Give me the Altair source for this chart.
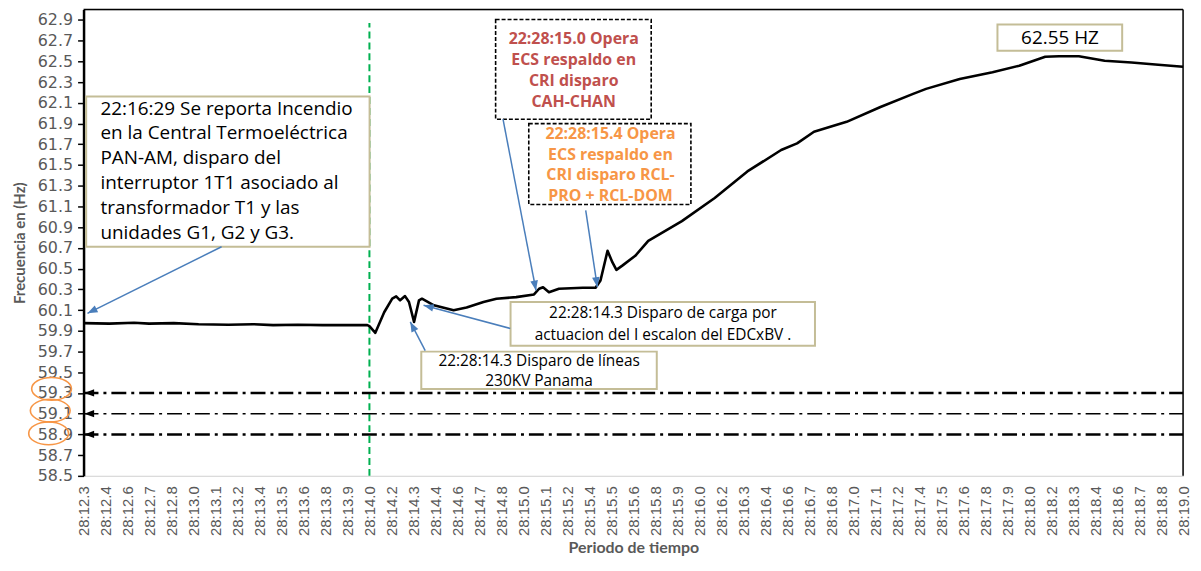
import math
import altair as alt
import pandas as pd

# ---------------- data ----------------
time_s = [12.300, 12.457, 12.608, 12.699, 12.850, 13.001, 13.183, 13.334, 13.455, 13.606,
          13.757, 13.908, 14.029, 14.042, 14.078, 14.132, 14.181, 14.205, 14.229, 14.259,
          14.283, 14.314, 14.344, 14.362, 14.435, 14.555, 14.634, 14.737, 14.816, 14.936,
          15.045, 15.076, 15.100, 15.136, 15.197, 15.342, 15.420, 15.450, 15.493, 15.523,
          15.547, 15.583, 15.662, 15.741, 15.946, 16.146, 16.345, 16.551, 16.648, 16.751,
          16.950, 17.156, 17.355, 17.434, 17.639, 17.839, 18.002, 18.160, 18.244, 18.365,
          18.522, 18.686, 18.849, 19.000]
freq_hz = [59.974, 59.969, 59.978, 59.969, 59.974, 59.964, 59.959, 59.964, 59.955, 59.959,
           59.955, 59.955, 59.955, 59.945, 59.881, 60.079, 60.210, 60.232, 60.194, 60.235,
           60.178, 59.986, 60.194, 60.210, 60.146, 60.098, 60.124, 60.178, 60.210, 60.225,
           60.251, 60.306, 60.321, 60.273, 60.306, 60.315, 60.315, 60.385, 60.672, 60.560,
           60.488, 60.529, 60.624, 60.768, 60.959, 61.182, 61.438, 61.645, 61.709, 61.821,
           61.917, 62.060, 62.187, 62.235, 62.331, 62.395, 62.459, 62.545, 62.550, 62.550,
           62.507, 62.490, 62.468, 62.449]

x_labels = ["28:12.3", "28:12.4", "28:12.6", "28:12.7", "28:12.8", "28:13.0", "28:13.1",
            "28:13.2", "28:13.4", "28:13.5", "28:13.6", "28:13.8", "28:13.9", "28:14.0",
            "28:14.2", "28:14.3", "28:14.4", "28:14.6", "28:14.7", "28:14.8", "28:15.0",
            "28:15.1", "28:15.2", "28:15.4", "28:15.5", "28:15.6", "28:15.8", "28:15.9",
            "28:16.0", "28:16.2", "28:16.3", "28:16.4", "28:16.6", "28:16.7", "28:16.8",
            "28:17.0", "28:17.1", "28:17.2", "28:17.4", "28:17.5", "28:17.6", "28:17.8",
            "28:17.9", "28:18.0", "28:18.2", "28:18.3", "28:18.4", "28:18.6", "28:18.7",
            "28:18.8", "28:19.0"]
x_start, x_step = 12.3, 0.134
y_ticks = [round(58.5 + 0.2 * k, 1) for k in range(23)]

limit_hz = [59.3, 59.1, 58.9]
limit_width = [2.5, 1.5, 2.5]
event_t = 14.042          # green dashed line
event_top = 62.87

ellipse_t = [12.105, 12.097, 12.087]
ellipse_f = [59.34, 59.13, 58.91]

# annotation boxes (t, t2, f, f2)
solid_boxes = [(12.316, 14.043, 62.162, 60.711),
               (17.869, 18.629, 62.857, 62.602),
               (14.902, 16.757, 60.178, 59.756),
               (14.358, 15.793, 59.699, 59.339)]
dashed_boxes = [(14.811, 15.759, 62.905, 61.942),
                (15.013, 16.001, 61.900, 61.119)]

# arrows (start t, start f, tip t, tip f)
arrows = [(13.141, 60.711, 12.324, 60.069),
          (14.856, 61.942, 15.057, 60.289),
          (15.360, 61.062, 15.431, 60.321),
          (14.900, 59.923, 14.372, 60.146),
          (14.382, 59.709, 14.291, 59.986)]

txt_fire = ("22:16:29 Se reporta Incendio\nen la Central Termoeléctrica\nPAN-AM, disparo del\n"
            "interruptor 1T1 asociado al\ntransformador T1 y las\nunidades G1, G2 y G3.")
txt_peak = "62.55 HZ"
txt_carga = "22:28:14.3 Disparo de carga por\nactuacion del I escalon del EDCxBV ."
txt_lineas = "22:28:14.3 Disparo de líneas\n230KV Panama"
txt_cah = "22:28:15.0 Opera\nECS respaldo en\nCRI disparo\nCAH-CHAN"
txt_rcl = "22:28:15.4 Opera\nECS respaldo en\nCRI disparo RCL-\nPRO + RCL-DOM"

# ---------------- layout ----------------
W, H = 1106, 469
XD = [12.3, 19.0]
YD = [58.5, 63.0]
GRAY = "#595959"
BLUE = "#4a7ebb"
TAN = "#c4bd97"


def px(t):
    return (t - XD[0]) / (XD[1] - XD[0]) * W


def py(f):
    return H - (f - YD[0]) / (YD[1] - YD[0]) * H


label_expr = "[" + ",".join("'%s'" % s for s in x_labels) + "][round((datum.value-%s)/%s)]" % (x_start, x_step)
x_ticks = [x_start + x_step * k for k in range(len(x_labels))]

X = alt.X("t:Q", scale=alt.Scale(domain=XD, nice=False, zero=False),
          axis=alt.Axis(values=x_ticks, labelExpr=label_expr, labelAngle=270, labelFont="Liberation Sans",
                        labelFontSize=15, labelColor=GRAY, labelPadding=10, ticks=False, grid=False,
                        domainColor="#d9d9d9", domainWidth=1, title="Periodo de tiempo",
                        titleFont="Lato", titleFontSize=16, titleFontWeight="bold", titleColor=GRAY,
                        titleX=W / 2, titleY=72, titleBaseline="middle", titleAlign="center",
                        labelOverlap=False, labelFlush=False))
Y = alt.Y("f:Q", scale=alt.Scale(domain=YD, nice=False, zero=False),
          axis=alt.Axis(values=y_ticks, format=".1f", labelFont="DejaVu Sans", labelFontSize=16,
                        labelColor=GRAY, labelPadding=5, tickSize=6, tickColor="black", tickWidth=1.5,
                        domainColor="black", domainWidth=2.5, grid=False, title="Frecuencia en (Hz)",
                        titleFont="Lato", titleFontSize=15, titleFontWeight="bold", titleColor=GRAY,
                        titleAngle=270, titleX=-64, titleY=H / 2, titleBaseline="middle",
                        titleAlign="center", labelOverlap=False, labelFlush=False))

line_df = pd.DataFrame({"t": time_s, "f": freq_hz})
line = alt.Chart(line_df).mark_line(color="black", strokeWidth=2.6, strokeJoin="round").encode(x=X, y=Y)

lim_df = pd.DataFrame({"f": limit_hz, "w": limit_width, "t": [XD[0]] * 3, "t2": [XD[1]] * 3})
limits = alt.Chart(lim_df).mark_rule(color="black", strokeDash=[15, 5, 3, 5]).encode(
    x=X, x2="t2:Q", y=Y, strokeWidth=alt.StrokeWidth("w:Q", scale=None))
lim_heads = alt.Chart(pd.DataFrame({"t": [XD[0] + 0.005] * 3, "f": limit_hz})).mark_point(
    shape="M0,0L1.6,-0.6L1.6,0.6Z", size=150, filled=True, color="black", opacity=1).encode(x=X, y=Y)

green = alt.Chart(pd.DataFrame({"t": [event_t], "f": [YD[0]], "f2": [event_top]})).mark_rule(
    color="#00b050", strokeWidth=2, strokeDash=[7, 4]).encode(x=X, y=Y, y2="f2:Q")

ell = alt.Chart(pd.DataFrame({"t": ellipse_t, "f": ellipse_f})).mark_point(
    shape="M-1,0A1,0.57,0,1,0,1,0A1,0.57,0,1,0,-1,0Z", size=1600, filled=False,
    color="#f79646", strokeWidth=1.6, opacity=1).encode(x=X, y=Y)


def box_df(boxes):
    return pd.DataFrame({"t": [b[0] for b in boxes], "t2": [b[1] for b in boxes],
                         "f": [b[2] for b in boxes], "f2": [b[3] for b in boxes]})


rect_solid = alt.Chart(box_df(solid_boxes)).mark_rect(fill="white", stroke=TAN, strokeWidth=2).encode(
    x=X, x2="t2:Q", y=Y, y2="f2:Q")
rect_dash = alt.Chart(box_df(dashed_boxes)).mark_rect(fill="white", stroke="black", strokeWidth=1.6,
                                                      strokeDash=[4, 2]).encode(x=X, x2="t2:Q", y=Y, y2="f2:Q")

arr_rows = []
head_rows = []
for (t0, f0, t1, f1) in arrows:
    dx, dy = px(t1) - px(t0), py(f1) - py(f0)
    ang = math.degrees(math.atan2(dx, -dy)) % 360
    arr_rows.append({"t": t0, "f": f0, "t2": t1, "f2": f1})
    head_rows.append({"t": t1, "f": f1, "a": ang})
arr = alt.Chart(pd.DataFrame(arr_rows)).mark_rule(color=BLUE, strokeWidth=1.5).encode(
    x=X, x2="t2:Q", y=Y, y2="f2:Q")
heads = alt.Chart(pd.DataFrame(head_rows)).mark_point(
    shape="M0,0L-0.65,1.7L0.65,1.7Z", size=140, filled=True, color=BLUE, opacity=1).encode(
    x=X, y=Y, angle=alt.Angle("a:Q", scale=None))


def text_layer(txt, t, f, size, lh, color="black", align="center", weight="normal"):
    # (t, f) is the centre of the first line
    return alt.Chart(pd.DataFrame({"t": [t], "f": [f], "s": [txt]})).mark_text(
        font="Open Sans", fontSize=size, lineHeight=lh, lineBreak="\n", color=color, align=align,
        baseline="middle", fontWeight=weight).encode(x=X, y=Y, text="s:N")


texts = [
    text_layer(txt_fire, 12.403, 62.044, 19, 25, align="left"),
    text_layer(txt_peak, 18.250, 62.730, 19, 20),
    text_layer(txt_carga, 15.831, 60.067, 15.5, 21.7),
    text_layer(txt_lineas, 15.076, 59.610, 15.5, 20.7),
    text_layer(txt_cah, 15.287, 62.716, 16, 21, color="#c0504d", weight="bold"),
    text_layer(txt_rcl, 15.511, 61.795, 16, 20.5, color="#f79646", weight="bold"),
]

frame_top = alt.Chart(pd.DataFrame({"t": [XD[0]], "t2": [XD[1]], "f": [YD[1]]})).mark_rule(
    color="black", strokeWidth=1.5).encode(x=X, x2="t2:Q", y=Y)
frame_right = alt.Chart(pd.DataFrame({"t": [XD[1]], "f": [YD[0]], "f2": [YD[1]]})).mark_rule(
    color="black", strokeWidth=1.5).encode(x=X, y=Y, y2="f2:Q")

chart = alt.layer(
    frame_top, frame_right, green, limits, lim_heads, line, ell,
    rect_solid, rect_dash, *texts, arr, heads
).properties(
    width=W, height=H,
    autosize=alt.AutoSizeParams(type="none"),
    padding={"left": 76, "top": 0, "right": 10, "bottom": 80},
).configure_view(stroke=None).configure(background="white")

chart.save("out.html", embed_options={"renderer": "svg", "actions": False})
